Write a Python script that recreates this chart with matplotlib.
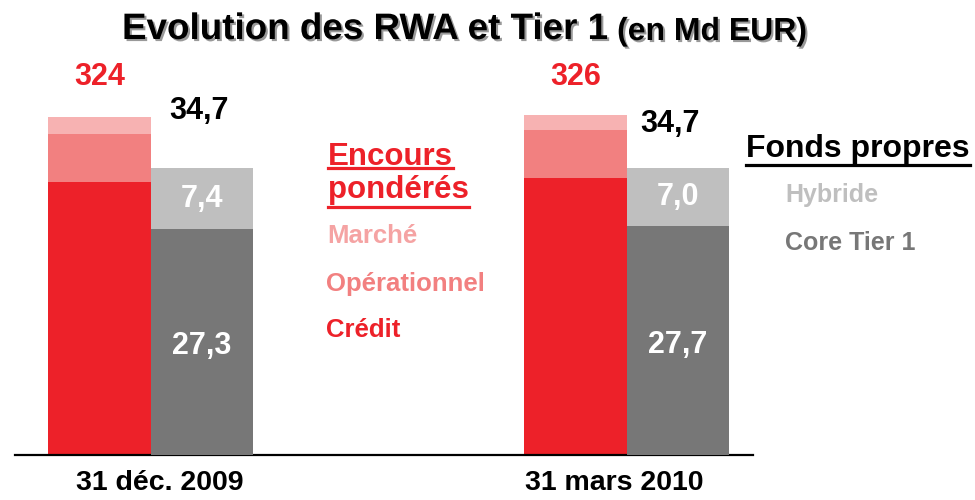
import matplotlib
matplotlib.use("Agg")
import numpy as np
import matplotlib.pyplot as plt
import matplotlib.patheffects as pe
import matplotlib.transforms as mtrans
from matplotlib.lines import Line2D

plt.rcParams['font.family'] = ['Liberation Sans', 'DejaVu Sans']
plt.rcParams['font.weight'] = 'bold'

# data (Md EUR)
dates = ["31 déc. 2009", "31 mars 2010"]
credit = [262, 266]
operationnel = [46, 46]
marche = [16, 14]
rwa_labels = ["324", "326"]
core_tier1 = [27.3, 27.7]
hybride = [7.4, 7.0]
tier1_labels = ["34,7", "34,7"]
core_labels = ["27,3", "27,7"]
hybride_labels = ["7,4", "7,0"]

RED = "#ED2129"
RED_MID = "#F28080"
RED_LIGHT = "#F7B2B2"
GREY_LIGHT = "#BFBFBF"
GREY_DARK = "#777777"

W, H = 975, 500


def fx(x):
    return x / W


def fy(y):
    return 1 - y / H


def main():
    fig = plt.figure(figsize=(W / 100, H / 100), dpi=100)

    ax = fig.add_axes([fx(15), fy(455), fx(738), 395 / H])
    ax2 = ax.twinx()

    x = np.arange(len(dates))
    w = 0.215
    rwa_total = np.add(np.add(credit, operationnel), marche)
    t1_total = np.add(core_tier1, hybride)

    # RWA stacked bars
    ax.bar(x - w/2, credit, w, color=RED)
    ax.bar(x - w/2, operationnel, w, bottom=credit, color=RED_MID)
    ax.bar(x - w/2, marche, w, bottom=np.add(credit, operationnel), color=RED_LIGHT)

    # Tier 1 stacked bars (own scale)
    ax2.bar(x + w/2, core_tier1, w, color=GREY_DARK)
    ax2.bar(x + w/2, hybride, w, bottom=core_tier1, color=GREY_LIGHT)

    ax.set_xlim(-0.285, 1.265)
    ax.set_ylim(0, 378.7)
    ax2.set_ylim(0, 47.76)

    for a in (ax, ax2):
        for s in a.spines.values():
            s.set_visible(False)
        a.set_yticks([])
    ax.spines['bottom'].set_visible(True)
    ax.spines['bottom'].set_color("black")
    ax.spines['bottom'].set_linewidth(1.6)
    ax.set_xticks(x, dates)
    ax.tick_params(axis='x', length=0, pad=11, labelsize=20.5)
    for lab, dx in zip(ax.get_xticklabels(), (9, -13)):
        lab.set_transform(lab.get_transform() +
                          mtrans.ScaledTranslation(dx / 100, 0, fig.dpi_scale_trans))

    # totals
    red_off = [(0, 29), (0, 27)]
    grey_off = [(-2, 41), (-6, 32)]
    for i in range(len(dates)):
        ax.annotate(rwa_labels[i], xy=(x[i] - w/2, rwa_total[i]), xytext=red_off[i],
                    textcoords='offset points', ha='center', va='center',
                    color=RED, fontsize=22, fontweight='bold')
        ax2.annotate(tier1_labels[i], xy=(x[i] + w/2, t1_total[i]), xytext=grey_off[i],
                     textcoords='offset points', ha='center', va='center',
                     color="black", fontsize=22, fontweight='bold')
        ax2.annotate(core_labels[i], xy=(x[i] + w/2, core_tier1[i] / 2), xytext=(0, -3),
                     textcoords='offset points', ha='center', va='center',
                     color="white", fontsize=22, fontweight='bold')
        ax2.text(x[i] + w/2, core_tier1[i] + hybride[i] / 2, hybride_labels[i],
                 ha='center', va='center', color="white", fontsize=22, fontweight='bold')

    # title with shadow
    shadow = [pe.withSimplePatchShadow(offset=(1.5, -1.5), shadow_rgbFace="#808080", alpha=0.8)]
    t = fig.text(fx(122), fy(39), "Evolution des RWA et Tier 1", fontsize=26.5,
                 fontweight='bold', ha='left', va='baseline', path_effects=shadow)
    ax.annotate("(en Md EUR)", xy=(1, 0), xycoords=t, xytext=(7, 0),
                textcoords='offset points', ha='left', va='bottom', fontsize=23,
                fontweight='bold', annotation_clip=False, path_effects=shadow)

    # legend texts
    enc = fig.text(fx(328), fy(165), "Encours", color=RED, fontsize=22.5, va='baseline')
    pon = fig.text(fx(328), fy(198), "pondérés", color=RED, fontsize=22.5, va='baseline')
    fig.text(fx(327), fy(243), "Marché", color="#F5A3A3", fontsize=18.5, va='baseline')
    fig.text(fx(326), fy(291), "Opérationnel", color=RED_MID, fontsize=18.5, va='baseline')
    fig.text(fx(326), fy(337), "Crédit", color=RED, fontsize=18.5, va='baseline')

    fp = fig.text(fx(746), fy(157), "Fonds propres", color="black", fontsize=23, va='baseline')
    fig.text(fx(785), fy(202), "Hybride", color=GREY_LIGHT, fontsize=18, va='baseline')
    fig.text(fx(785), fy(250), "Core Tier 1", color=GREY_DARK, fontsize=18, va='baseline')

    # underlines
    fig.canvas.draw()
    r = fig.canvas.get_renderer()
    for txt, y, col in ((enc, 168, RED), (pon, 207, RED), (fp, 165, "black")):
        bb = txt.get_window_extent(r)
        fig.add_artist(Line2D([bb.x0 / W, bb.x1 / W], [fy(y), fy(y)],
                              transform=fig.transFigure, color=col, lw=2.3))

    fig.savefig("out.png", dpi=100)


if __name__ == "__main__":
    main()
